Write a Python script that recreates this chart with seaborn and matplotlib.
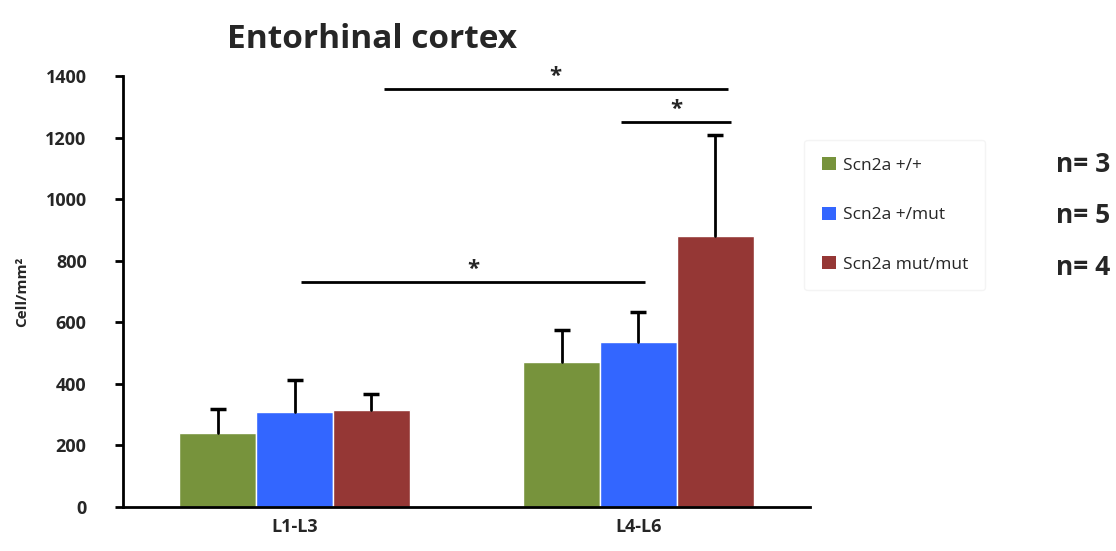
import pandas as pd
import matplotlib
matplotlib.use("Agg")
import matplotlib.pyplot as plt
import seaborn as sns
from matplotlib.patches import Patch

# values
layers = ["L1-L3", "L4-L6"]
genotypes = ["Scn2a +/+", "Scn2a +/mut", "Scn2a mut/mut"]
n_counts = [3, 5, 4]
mean_l1l3 = [240, 309, 315]
mean_l4l6 = [471, 536, 880]
sem_l1l3 = [78, 103, 52]
sem_l4l6 = [104, 97, 328]
colors = ["#77933C", "#3366FF", "#953735"]

# significance brackets: (x start, x end, height)
sig_lines = [(0.26, 1.26, 1357), (0.95, 1.27, 1250), (0.02, 1.02, 731)]

rows = []
for i, g in enumerate(genotypes):
    rows.append({"layer": layers[0], "genotype": g, "density": mean_l1l3[i], "err": sem_l1l3[i]})
    rows.append({"layer": layers[1], "genotype": g, "density": mean_l4l6[i], "err": sem_l4l6[i]})
df = pd.DataFrame(rows)

sns.set_style("white")
plt.rcParams["font.family"] = ["Open Sans", "DejaVu Sans"]

fig = plt.figure(figsize=(11.16, 5.51), dpi=100)
ax = fig.add_axes([0.110, 0.080, 0.616, 0.782])

sns.barplot(data=df, x="layer", y="density", hue="genotype", order=layers,
            hue_order=genotypes, palette=colors, width=0.67, saturation=1,
            errorbar=None, ax=ax, legend=False)

# one-sided error bars (upper only) on top of each bar
bar_groups = list(ax.containers)
for k, cont in enumerate(bar_groups):
    g = genotypes[k]
    for j, bar in enumerate(cont):
        sub = df[(df.genotype == g) & (df.layer == layers[j])]
        cx = bar.get_x() + bar.get_width() / 2
        h = bar.get_height()
        top = h + sub.err.values[0]
        ax.plot([cx, cx], [h, top], color="black", lw=2, zorder=3)
        ax.plot([cx], [top], marker="_", markersize=11, mew=2.5, color="black", zorder=3)

for x0, x1, y in sig_lines:
    ax.plot([x0, x1], [y, y], color="black", lw=2, clip_on=False, solid_capstyle="butt")
    ax.text((x0 + x1) / 2, y + 8, "*", ha="center", va="bottom",
            fontsize=16, fontweight="bold", clip_on=False)

ax.set_ylim(0, 1400)
ax.set_xlim(-0.5, 1.5)
ax.set_yticks(range(0, 1401, 200))
ax.set_yticklabels([str(v) for v in range(0, 1401, 200)], fontsize=13, fontweight="bold")
ax.set_xticks([0, 1])
ax.set_xticklabels(layers, fontsize=13, fontweight="bold")
ax.tick_params(axis="x", length=0, pad=8)
ax.set_xticks([0.5], minor=True)
ax.tick_params(axis="x", which="minor", length=7, width=2, color="black", direction="out")
ax.tick_params(axis="y", length=6, width=2, color="black", direction="out", left=True, pad=20)

ax.set_xlabel("")
ax.set_ylabel("Cell/mm²", fontsize=11, fontweight="bold", labelpad=12)
for s in ["top", "right"]:
    ax.spines[s].set_visible(False)
for s in ["left", "bottom"]:
    ax.spines[s].set_color("black")
    ax.spines[s].set_linewidth(2)

fig.text(0.333, 0.929, "Entorhinal cortex", ha="center", va="center",
         fontsize=24, fontweight="bold")

handles = [Patch(facecolor=c, edgecolor="none", label=g) for c, g in zip(colors, genotypes)]
leg = fig.legend(handles=handles, loc="center left", bbox_to_anchor=(0.713, 0.610),
                 frameon=True, fontsize=12.5, handlelength=0.8, handleheight=0.8,
                 handletextpad=0.4, labelspacing=1.9, borderpad=1.0)
leg.get_frame().set_edgecolor("#f2f2f2")
leg.get_frame().set_linewidth(1)

for i, n in enumerate(n_counts):
    fig.text(0.946, 0.701 - i * 0.093, f"n= {n}", ha="left", va="center",
             fontsize=19, fontweight="bold")

fig.savefig("out.png", dpi=100)
